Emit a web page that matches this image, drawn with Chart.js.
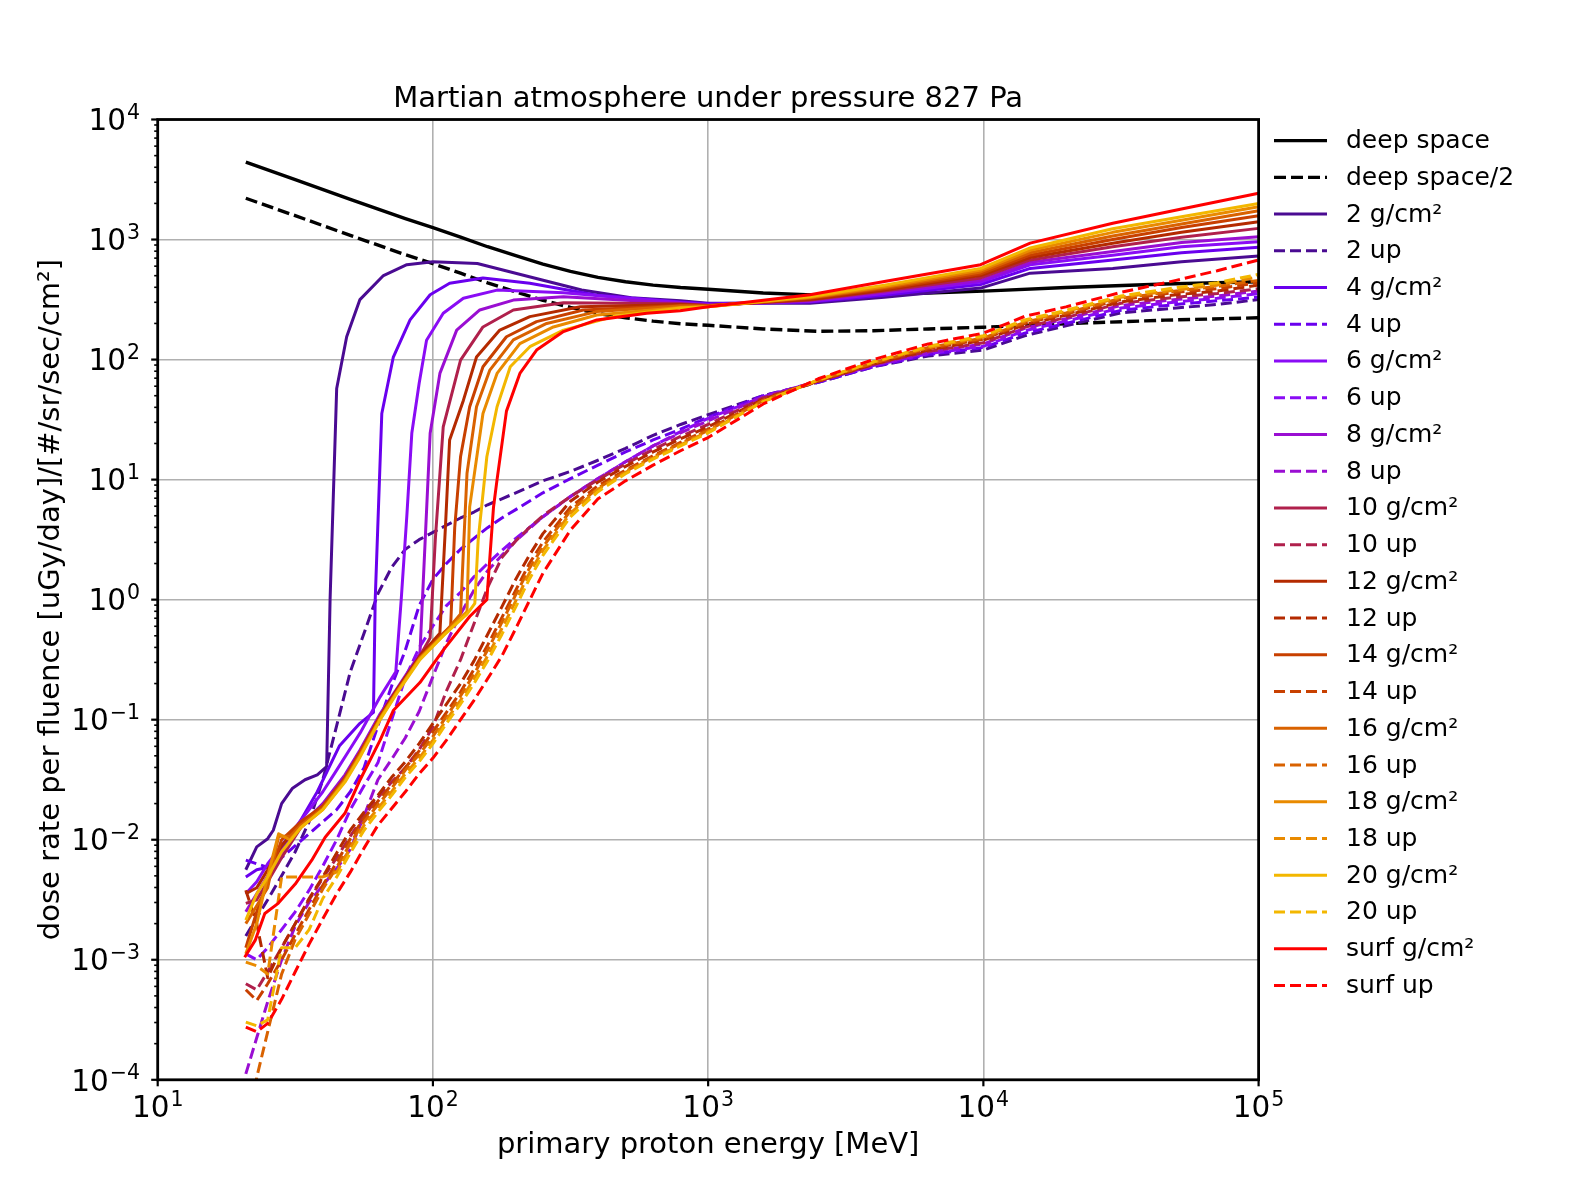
<!DOCTYPE html>
<html><head><meta charset="utf-8">
<script src="https://cdn.jsdelivr.net/npm/chart.js@4/dist/chart.umd.min.js"></script>
<style>html,body{margin:0;padding:0;background:#fff;}#wrap{width:1575px;height:1200px;}</style>
</head><body><div id="wrap"><canvas id="c" width="1575" height="1200"></canvas></div>
<script>
// ---------- data (MeV, uGy/day per fluence) ----------
const deepE = [20.9, 31.6, 50.1, 79.4, 100, 126, 158, 200, 251, 316, 398, 501, 631, 794, 1000, 1585, 2512, 3981, 6310, 10000, 19953, 45709, 100000];
const deepSpace = [4416, 3162, 2163, 1496, 1259, 1047, 871, 733, 624, 543, 484, 445, 417, 398, 385, 359, 344, 347, 359, 372, 398, 426, 445];
const deepSpaceHalf = [2208, 1581, 1082, 748, 630, 524, 436, 367, 312, 272, 242, 223, 209, 199, 193, 180, 172, 174, 180, 186, 199, 213, 223];

const energyUp = [20.9, 22.9, 25.1, 28.2, 31.6, 35.5, 39.8, 44.7, 50.1, 56.2, 63.1, 70.8, 79.4, 89.1, 100, 112, 126, 141, 158, 178, 200, 224, 251, 316, 398, 501, 631, 794, 1000, 1585, 2512, 3981, 6310, 10000, 14125, 19953, 31623, 50119, 70795, 100000];
const up2 = [1.58e-3, 2.24e-3, 3.16e-3, 5.01e-3, 7.94e-3, 0.0141, 0.0316, 0.0891, 0.251, 0.525, 1.12, 1.86, 2.63, 3.16, 3.63, 4.17, 4.79, 5.37, 6.17, 6.92, 7.76, 8.71, 9.77, 11.7, 14.5, 18.2, 23.4, 28.8, 34.7, 50.1, 64.6, 87.1, 107, 120, 158, 191, 245, 269, 288, 316];
const up4 = [6.76e-3, 6.31e-3, 5.89e-3, 7.08e-3, 8.91e-3, 0.0112, 0.0141, 0.0178, 0.0251, 0.0398, 0.0891, 0.191, 0.380, 0.891, 1.48, 2.0, 2.63, 3.24, 3.98, 4.79, 5.62, 6.61, 7.76, 10.2, 13.2, 17.0, 21.4, 26.3, 33.1, 50.1, 64.6, 87.1, 110, 126, 166, 200, 257, 288, 309, 331];
const up6 = [1.12e-3, 1.0e-3, 1.26e-3, 1.78e-3, 2.51e-3, 3.80e-3, 6.03e-3, 0.01, 0.0178, 0.0282, 0.0437, 0.1, 0.224, 0.398, 0.603, 0.891, 1.15, 1.55, 2.0, 2.57, 3.24, 3.98, 4.90, 7.24, 10.2, 14.1, 19.1, 25.1, 32.4, 49.0, 66.1, 89.1, 112, 129, 174, 209, 269, 302, 324, 355];
const up8 = [1.12e-4, 2.24e-4, 4.47e-4, 1.0e-3, 1.91e-3, 3.02e-3, 4.17e-3, 5.75e-3, 8.32e-3, 0.0158, 0.0316, 0.0468, 0.0708, 0.117, 0.229, 0.437, 0.759, 1.20, 1.74, 2.34, 3.09, 3.89, 4.90, 7.24, 10.2, 14.1, 19.1, 24.5, 30.9, 49.0, 66.1, 89.1, 115, 135, 182, 219, 282, 316, 339, 372];
const up10 = [6.31e-4, 5.62e-4, 7.94e-4, 1.26e-3, 2.0e-3, 3.16e-3, 4.79e-3, 7.08e-3, 0.0107, 0.0158, 0.0224, 0.0302, 0.0398, 0.0562, 0.0871, 0.174, 0.316, 0.631, 1.26, 2.24, 3.09, 3.98, 5.01, 7.24, 10.0, 13.5, 17.8, 22.9, 28.8, 47.9, 66.1, 91.2, 117, 138, 186, 224, 295, 331, 355, 389];
const up12 = [3.80e-3, 2.0e-3, 7.08e-4, 1.26e-3, 2.0e-3, 3.24e-3, 4.90e-3, 7.76e-3, 0.0120, 0.0170, 0.0234, 0.0331, 0.0447, 0.0631, 0.0933, 0.135, 0.200, 0.309, 0.513, 0.871, 1.48, 2.34, 3.55, 6.61, 9.55, 12.9, 17.0, 21.9, 27.5, 46.8, 66.1, 91.2, 120, 145, 195, 234, 302, 347, 372, 417];
const up14 = [5.62e-4, 4.57e-4, 6.31e-4, 1.0e-3, 1.62e-3, 2.63e-3, 4.17e-3, 6.46e-3, 0.0102, 0.0151, 0.0209, 0.0288, 0.0398, 0.0550, 0.0794, 0.115, 0.170, 0.263, 0.417, 0.708, 1.20, 2.0, 3.02, 5.89, 8.91, 12.0, 15.8, 20.4, 26.3, 45.7, 66.1, 93.3, 123, 148, 200, 240, 316, 363, 389, 437];
const up16 = [2.51e-5, 1.05e-4, 2.51e-4, 7.59e-4, 1.48e-3, 2.40e-3, 3.89e-3, 5.89e-3, 9.33e-3, 0.0141, 0.0195, 0.0269, 0.0380, 0.0513, 0.0724, 0.107, 0.158, 0.240, 0.380, 0.646, 1.10, 1.82, 2.75, 5.50, 8.51, 11.7, 15.5, 20.0, 25.7, 45.7, 67.6, 93.3, 126, 151, 204, 245, 324, 372, 407, 457];
const up18 = [9.55e-4, 8.91e-4, 7.59e-4, 4.90e-3, 4.90e-3, 4.90e-3, 4.90e-3, 5.37e-3, 8.51e-3, 0.0132, 0.0182, 0.0251, 0.0355, 0.0479, 0.0676, 0.1, 0.145, 0.219, 0.339, 0.575, 0.977, 1.66, 2.57, 5.25, 8.32, 11.5, 15.1, 19.5, 25.1, 44.7, 67.6, 95.5, 126, 155, 209, 251, 331, 380, 417, 490];
const up20 = [3.02e-4, 2.82e-4, 3.16e-4, 1.26e-3, 1.26e-3, 1.78e-3, 3.24e-3, 4.90e-3, 7.76e-3, 0.0120, 0.0170, 0.0234, 0.0331, 0.0447, 0.0631, 0.0933, 0.135, 0.200, 0.309, 0.513, 0.871, 1.48, 2.34, 4.90, 7.94, 11.2, 14.8, 19.1, 24.5, 44.7, 67.6, 95.5, 129, 158, 214, 257, 339, 398, 437, 513];
const upSurf = [2.75e-4, 2.51e-4, 2.95e-4, 4.68e-4, 7.94e-4, 1.35e-3, 2.19e-3, 3.55e-3, 5.37e-3, 8.51e-3, 0.0132, 0.0182, 0.0251, 0.0355, 0.0479, 0.0676, 0.1, 0.145, 0.219, 0.339, 0.575, 0.977, 1.66, 3.80, 6.92, 9.77, 13.2, 17.4, 22.4, 42.7, 69.2, 100, 135, 166, 229, 275, 363, 457, 550, 676];

// solid (g/cm²) series: low/threshold part
const eG2 = [20.9, 22.9, 25.1, 26.3, 28.2, 30.9, 34.3, 38.0, 41.1, 42.3, 44.7, 48.6, 54.3, 66.1, 80.4, 100, 145, 224, 347, 525, 794];
const vG2 = [5.62e-3, 8.71e-3, 0.0102, 0.0120, 0.0200, 0.0269, 0.0316, 0.0347, 0.0407, 1.0, 57.5, 155, 316, 501, 617, 653, 631, 490, 380, 327, 309];
const eG4 = [20.9, 22.9, 25.1, 28.8, 33.1, 38.0, 45.7, 54.3, 60.8, 61.7, 65.2, 71.8, 82.6, 97.7, 115, 152, 225, 394, 791];
const vG4 = [4.90e-3, 5.62e-3, 5.89e-3, 8.71e-3, 0.0145, 0.0251, 0.0603, 0.0933, 0.115, 1.0, 35.5, 105, 214, 347, 432, 479, 432, 344, 302];
const eG6 = [20.9, 22.9, 25.1, 28.2, 31.6, 35.5, 39.8, 44.7, 50.1, 54.4, 64.3, 73.3, 76.7, 80.4, 83.8, 89.1, 94.8, 109, 129, 171, 298, 791];
const vG6 = [3.55e-3, 4.47e-3, 6.31e-3, 8.91e-3, 0.0126, 0.0178, 0.0251, 0.0380, 0.0575, 0.0776, 0.155, 0.251, 1.0, 5.01, 24.3, 63.1, 145, 243, 324, 379, 361, 299];
const eG8 = [20.9, 22.9, 25.1, 28.2, 33.1, 39.8, 47.9, 54.4, 64.3, 74.0, 89.7, 97.7, 106, 122, 148, 196, 298, 791];
const vG8 = [2.51e-3, 3.55e-3, 5.01e-3, 7.59e-3, 0.0132, 0.0200, 0.0347, 0.0562, 0.112, 0.182, 0.355, 24.3, 76.7, 176, 259, 313, 333, 295];
const eG10 = [20.9, 22.9, 25.1, 28.2, 33.1, 39.8, 47.9, 54.4, 64.3, 74.0, 89.7, 97.7, 102, 109, 126, 152, 196, 298, 791];
const vG10 = [2.95e-3, 3.16e-3, 4.47e-3, 7.08e-3, 0.0126, 0.0191, 0.0331, 0.0537, 0.107, 0.174, 0.339, 0.479, 3.16, 27.5, 99.1, 187, 259, 297, 292];
const eG12 = [20.9, 22.9, 25.1, 28.2, 33.1, 39.8, 47.9, 54.4, 64.3, 74.0, 89.7, 106, 111, 115, 129, 144, 175, 225, 343, 791];
const vG12 = [3.55e-3, 3.98e-3, 5.62e-3, 8.91e-3, 0.0138, 0.0186, 0.0316, 0.0525, 0.107, 0.178, 0.339, 0.525, 3.98, 21.4, 45.7, 105, 176, 228, 275, 288];
const eG14 = [20.9, 22.9, 25.1, 28.2, 33.1, 39.8, 47.9, 54.4, 64.3, 74.0, 89.7, 109, 116, 120, 126, 136, 152, 185, 238, 352, 791];
const vG14 = [1.26e-3, 2.51e-3, 4.47e-3, 0.01, 0.0141, 0.0191, 0.0324, 0.0537, 0.105, 0.174, 0.331, 0.525, 0.603, 3.98, 15.5, 40.5, 87.1, 155, 207, 259, 282];
const eG16 = [20.9, 22.9, 25.1, 27.5, 30.2, 33.1, 39.8, 47.9, 54.4, 64.3, 74.0, 89.7, 109, 126, 129, 133, 144, 161, 196, 259, 394, 791];
const vG16 = [2.0e-3, 2.82e-3, 3.98e-3, 0.0107, 0.0107, 0.0132, 0.0182, 0.0316, 0.0513, 0.102, 0.170, 0.324, 0.513, 0.759, 2.51, 11.3, 40.5, 81.8, 146, 200, 251, 279];
const eG18 = [20.9, 22.9, 25.1, 27.5, 30.2, 33.1, 39.8, 47.9, 54.4, 64.3, 74.0, 89.7, 109, 133, 136, 152, 171, 207, 274, 394, 791];
const vG18 = [1.12e-3, 2.0e-3, 5.01e-3, 0.0112, 0.01, 0.0126, 0.0178, 0.0309, 0.0501, 0.102, 0.170, 0.324, 0.501, 0.794, 5.93, 35.6, 76.7, 136, 187, 235, 272];
const eG20 = [20.9, 22.9, 25.1, 28.2, 33.1, 39.8, 47.9, 54.4, 64.3, 74.0, 89.7, 109, 133, 142, 146, 157, 171, 191, 225, 298, 453, 791];
const vG20 = [2.14e-3, 3.55e-3, 4.90e-3, 7.94e-3, 0.0126, 0.0178, 0.0302, 0.0490, 0.1, 0.166, 0.316, 0.501, 0.759, 0.933, 3.13, 15.5, 40.5, 87.1, 128, 176, 228, 269];
const eSurf = [20.7, 22.6, 24.5, 27.4, 31.6, 36.3, 40.6, 47.9, 54.4, 64.3, 71.9, 89.7, 109, 136, 157, 166, 171, 185, 207, 238, 298, 394, 598, 791];
const vSurf = [1.05e-3, 1.45e-3, 2.43e-3, 2.95e-3, 4.27e-3, 6.76e-3, 0.0105, 0.0166, 0.0316, 0.0676, 0.120, 0.204, 0.380, 0.724, 1.0, 5.89, 10.0, 37.2, 76.7, 120, 171, 214, 243, 255];

// solid series: high energy part
const solidHighE = [1000, 2344, 4365, 9772, 14791, 29512, 52481, 100000];
const hiG2 = [295, 295, 331, 394, 525, 575, 653, 729];
const hiG4 = [292, 302, 343, 422, 575, 676, 776, 861];
const hiG6 = [288, 305, 355, 442, 617, 741, 871, 959];
const hiG8 = [285, 309, 363, 457, 646, 794, 944, 1054];
const hiG10 = [282, 313, 372, 479, 676, 871, 1047, 1239];
const hiG12 = [282, 316, 380, 501, 708, 933, 1148, 1406];
const hiG14 = [279, 324, 389, 519, 741, 1000, 1259, 1578];
const hiG16 = [279, 327, 398, 537, 776, 1072, 1349, 1738];
const hiG18 = [275, 331, 407, 556, 813, 1148, 1445, 1875];
const hiG20 = [275, 335, 417, 575, 851, 1230, 1549, 1995];
const hiSurf = [275, 347, 447, 617, 933, 1365, 1799, 2427];

const depthLabels = ['2', '4', '6', '8', '10', '12', '14', '16', '18', '20', 'surf'];
const depthColors = ['#4a0b92', '#6a00ee', '#8a0cf5', '#9a0ed2', '#b0204c', '#b42a00', '#c84000', '#d96200', '#e98a00', '#f3b700', '#ff0000'];
const yTickValues = [1e-4, 1e-3, 1e-2, 1e-1, 1, 10, 100, 1000, 10000];
const xTickValues = [10, 100, 1000, 10000, 100000];

const titleText = 'Martian atmosphere under pressure 827 Pa';
const xTitleText = 'primary proton energy [MeV]';
const yTitleText = 'dose rate per fluence [uGy/day]/[#/sr/sec/cm\u00B2]';

// ---------- build ----------
const FONT = '"DejaVu Sans", "Liberation Sans", sans-serif';
function pts(xs, ys) { return xs.map((x, i) => ({ x: x, y: ys[i] })); }
const solidE = [eG2, eG4, eG6, eG8, eG10, eG12, eG14, eG16, eG18, eG20, eSurf];
const solidV = [vG2, vG4, vG6, vG8, vG10, vG12, vG14, vG16, vG18, vG20, vSurf];
const solidHi = [hiG2, hiG4, hiG6, hiG8, hiG10, hiG12, hiG14, hiG16, hiG18, hiG20, hiSurf];
const upV = [up2, up4, up6, up8, up10, up12, up14, up16, up18, up20, upSurf];

const datasets = [
  { label: 'deep space', data: pts(deepE, deepSpace), borderColor: '#000', borderWidth: 3.4, borderDash: [] },
  { label: 'deep space/2', data: pts(deepE, deepSpaceHalf), borderColor: '#000', borderWidth: 3.4, borderDash: [12, 5] }
];
depthLabels.forEach((lab, i) => {
  datasets.push({ label: lab + ' g/cm\u00B2', data: pts(solidE[i].concat(solidHighE), solidV[i].concat(solidHi[i])), borderColor: depthColors[i], borderWidth: 3, borderDash: [] });
  datasets.push({ label: lab + ' up', data: pts(energyUp, upV[i]), borderColor: depthColors[i], borderWidth: 3, borderDash: [11, 5] });
});
datasets.forEach((d, i) => { d.order = datasets.length - i; d.pointRadius = 0; d.fill = false; d.tension = 0; d.borderCapStyle = 'butt'; d.borderJoinStyle = 'round'; });

function isPow10(v) { const l = Math.log10(v); return Math.abs(l - Math.round(l)) < 1e-9; }
function expText(v) { const e = Math.round(Math.log10(v)); return (e < 0 ? '\u2212' : '') + Math.abs(e); }

const BIG = '29.5px ' + FONT, SMALL = '20.5px ' + FONT;
function drawPow(ctx, v, xLeft, baseY) {
  ctx.font = BIG; ctx.fillText('10', xLeft, baseY);
  const w = ctx.measureText('10').width;
  ctx.font = SMALL; ctx.fillText(expText(v), xLeft + w + 1, baseY - 11.5);
}
function powWidth(ctx, v) {
  ctx.font = BIG; const w1 = ctx.measureText('10').width;
  ctx.font = SMALL; const w2 = ctx.measureText(expText(v)).width;
  return w1 + 1 + w2;
}

const decor = {
  id: 'decor',
  afterDraw(chart) {
    const { ctx, chartArea: a } = chart;
    const xs = chart.scales.x, ys = chart.scales.y;
    ctx.save();
    ctx.strokeStyle = '#000';
    ctx.setLineDash([]);
    // y ticks (major + minor)
    ys.ticks.forEach(t => {
      const py = ys.getPixelForValue(t.value);
      const major = isPow10(t.value);
      ctx.lineWidth = major ? 2.2 : 1.6;
      const len = major ? 6.5 : 3.5;
      ctx.beginPath(); ctx.moveTo(a.left - len, py); ctx.lineTo(a.left, py); ctx.stroke();
    });
    xs.ticks.forEach(t => {
      const px = xs.getPixelForValue(t.value);
      ctx.lineWidth = 2.2;
      ctx.beginPath(); ctx.moveTo(px, a.bottom); ctx.lineTo(px, a.bottom + 6.5); ctx.stroke();
    });
    // spines
    ctx.lineWidth = 2.8;
    ctx.strokeRect(a.left, a.top, a.right - a.left, a.bottom - a.top);
    // tick labels
    ctx.fillStyle = '#000';
    ctx.textAlign = 'left';
    ctx.textBaseline = 'alphabetic';
    ys.ticks.forEach(t => {
      if (!isPow10(t.value)) return;
      const py = ys.getPixelForValue(t.value);
      const w = powWidth(ctx, t.value);
      drawPow(ctx, t.value, 140 - w, py + 10.7);
    });
    xs.ticks.forEach(t => {
      const px = xs.getPixelForValue(t.value);
      const w = powWidth(ctx, t.value);
      drawPow(ctx, t.value, px - w / 2, a.bottom + 37.5);
    });
    // titles
    ctx.font = '29px ' + FONT;
    ctx.textAlign = 'center';
    const cx = (a.left + a.right) / 2;
    ctx.fillText(titleText, cx, 107);
    ctx.fillText(xTitleText, cx, 1153);
    ctx.save();
    ctx.translate(59, (a.top + a.bottom) / 2);
    ctx.rotate(-Math.PI / 2);
    ctx.fillText(yTitleText, 0, 0);
    ctx.restore();
    // legend
    ctx.font = '25px ' + FONT;
    ctx.textAlign = 'left';
    ctx.textBaseline = 'middle';
    chart.data.datasets.forEach((d, i) => {
      const y = 140.6 + i * 36.73;
      ctx.strokeStyle = d.borderColor;
      ctx.lineWidth = d.borderWidth;
      ctx.setLineDash(d.borderDash || []);
      ctx.beginPath(); ctx.moveTo(1274, y); ctx.lineTo(1327, y); ctx.stroke();
      ctx.setLineDash([]);
      ctx.fillStyle = '#000';
      ctx.fillText(d.label, 1346, y + 1);
    });
    ctx.restore();
  }
};

new Chart(document.getElementById('c'), {
  type: 'line',
  data: { datasets: datasets },
  options: {
    responsive: false,
    animation: false,
    devicePixelRatio: 1,
    layout: { padding: { left: 0, top: 119.5, right: 316.4, bottom: 0 } },
    plugins: { legend: { display: false }, title: { display: false }, tooltip: { enabled: false } },
    elements: { line: { tension: 0 } },
    scales: {
      x: {
        type: 'logarithmic', min: 10, max: 100000,
        afterBuildTicks: (s) => { s.ticks = xTickValues.map(v => ({ value: v, major: true })); },
        afterFit: (s) => { s.height = 120.2; },
        ticks: { display: false, autoSkip: false },
        grid: { drawTicks: false, color: (c) => (c.tick && isPow10(c.tick.value)) ? '#b0b0b0' : 'rgba(0,0,0,0)', lineWidth: 1.6 },
        border: { display: false }
      },
      y: {
        type: 'logarithmic', min: 1e-4, max: 1e4,
        afterBuildTicks: (s) => {
          const t = [];
          for (let e = -4; e <= 4; e++) {
            t.push({ value: Math.pow(10, e), major: true });
            if (e < 4) for (let m = 2; m <= 9; m++) t.push({ value: m * Math.pow(10, e), major: false });
          }
          t.sort((p, q) => p.value - q.value);
          s.ticks = t;
        },
        afterFit: (s) => { s.width = 157.7; },
        ticks: { display: false, autoSkip: false },
        grid: { drawTicks: false, color: (c) => (c.tick && isPow10(c.tick.value)) ? '#b0b0b0' : 'rgba(0,0,0,0)', lineWidth: 1.6 },
        border: { display: false }
      }
    }
  },
  plugins: [decor]
});
</script></body></html>
